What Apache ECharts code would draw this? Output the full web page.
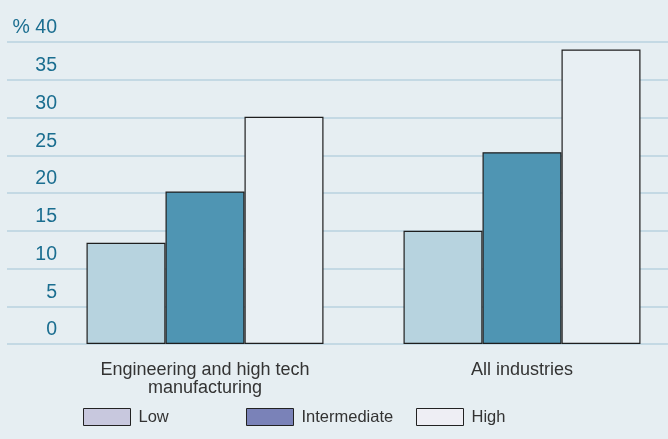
<!DOCTYPE html>
<html>
<head>
<meta charset="utf-8">
<script src="https://cdn.jsdelivr.net/npm/echarts@6/dist/echarts.min.js"></script>
<style>
  html, body { margin: 0; padding: 0; background: #e6eef2; }
  #chart { width: 668px; height: 439px; }
</style>
</head>
<body>
<div id="chart"></div>
<script>
// Share of firms by level, two industry groups
const categories = ['Engineering and high tech\nmanufacturing', 'All industries'];
const seriesNames = ['Low', 'Intermediate', 'High'];
const lowValues = [13.4, 15.0];
const intermediateValues = [20.2, 25.4];
const highValues = [30.1, 39.0];
const yTicks = [0, 5, 10, 15, 20, 25, 30, 35, 40];

const barColors = ['#b7d3df', '#4f95b3', '#e8eff3'];
const legendColors = ['#c8c8de', '#7a82b8', '#eeeef4'];
const values = [lowValues, intermediateValues, highValues];

const FONT = 'Liberation Sans';
const GRID_TOP = 42;
const GRID_BOTTOM = 95;

const chart = echarts.init(document.getElementById('chart'), null, { renderer: 'canvas' });

const legendLefts = [78, 241, 411];

const option = {
  backgroundColor: '#e6eef2',
  animation: false,
  grid: [
    // full-width grid that carries the horizontal rules and tick labels
    { left: 7, right: 0, top: GRID_TOP, bottom: GRID_BOTTOM },
    // grid spanning the two group centres (categories sit on its edges)
    { left: 205, width: 317, top: GRID_TOP, bottom: GRID_BOTTOM }
  ],
  legend: seriesNames.map((name, i) => ({
    left: legendLefts[i],
    top: 403,
    itemWidth: 47,
    itemHeight: 17,
    icon: 'rect',
    data: [{ name: name, itemStyle: { color: legendColors[i], borderColor: '#222', borderWidth: 1 } }],
    textStyle: { fontFamily: FONT, fontSize: 16.5, color: '#333', padding: [3, 0, 0, 3] }
  })),
  xAxis: [
    { gridIndex: 0, type: 'category', data: categories, show: false },
    {
      gridIndex: 1,
      type: 'category',
      data: categories,
      boundaryGap: false,
      axisLine: { show: false },
      axisTick: { show: false },
      axisLabel: { fontFamily: FONT, fontSize: 18, color: '#333', margin: 17, lineHeight: 18, interval: 0 }
    }
  ],
  yAxis: [
    {
      gridIndex: 0,
      type: 'value',
      min: 0,
      max: 40,
      interval: 5,
      axisLine: { show: false },
      axisTick: { show: false },
      splitLine: { show: true, lineStyle: { color: '#b9d2df', width: 1.5 } },
      axisLabel: {
        margin: -50,
        align: 'right',
        verticalAlign: 'bottom',
        padding: [0, 0, 4, 0],
        fontFamily: FONT,
        fontSize: 19.5,
        color: '#1b6e90',
        formatter: v => (v === 40 ? '% ' + v : String(v))
      }
    },
    {
      gridIndex: 1,
      type: 'value',
      min: 0,
      max: 40,
      interval: 5,
      show: false
    }
  ],
  series: seriesNames.map((name, i) => ({
    name: name,
    type: 'bar',
    xAxisIndex: 1,
    yAxisIndex: 1,
    data: values[i],
    barWidth: 79,
    barGap: '0%',
    clip: false,
    itemStyle: { color: barColors[i], borderColor: '#1e1e1e', borderWidth: 1.2 }
  }))
};

chart.setOption(option);
</script>
</body>
</html>
